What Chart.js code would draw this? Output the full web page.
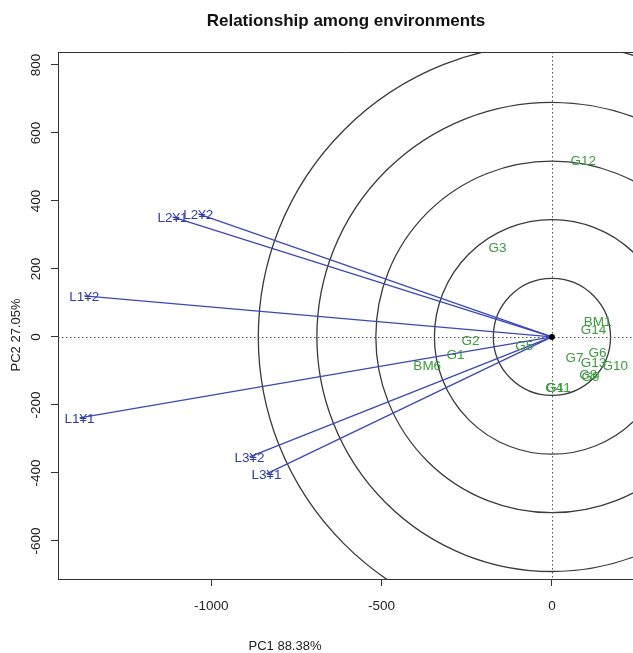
<!DOCTYPE html>
<html>
<head>
<meta charset="utf-8">
<script src="https://cdn.jsdelivr.net/npm/chart.js@4/dist/chart.umd.min.js"></script>
<style>
html,body{margin:0;padding:0;background:#fff;}
#wrap{width:633px;height:653px;}
</style>
</head>
<body>
<div id="wrap"><canvas id="c" width="633" height="653"></canvas></div>
<script>
// ---- data ----
const envLabels = ['L1¥1', 'L1¥2', 'L2¥1', 'L2¥2', 'L3¥1', 'L3¥2'];
const envPC1 = [-1387, -1373, -1114, -1038, -838, -888];
const envPC2 = [-238, 121, 353, 362, -403, -353];

const genLabels = ['G12', 'G3', 'G2', 'G1', 'BM6', 'G5', 'BM1', 'G14', 'G6', 'G7', 'G13', 'G10', 'G8', 'G9', 'G4', 'G11'];
const genPC1 = [92, -160, -239, -283, -366, -81, 134, 122, 134, 66, 122, 186, 107, 113, 7, 19];
const genPC2 = [521, 265, -9, -50, -82, -24, 47, 24, -44, -59, -74, -82, -109, -115, -147, -147];

const circleRadii = [172, 345, 517, 690, 862];
const xTicks = [-1000, -500, 0];
const yTicks = [-600, -400, -200, 0, 200, 400, 600, 800];

const titleText = 'Relationship among environments';
const xTitle = 'PC1 88.38%';
const yTitle = 'PC2 27.05%';

// ---- styles ----
const FONT = '"Liberation Sans", Arial, sans-serif';
const BLUE_LINE = '#3a48b8';
const BLUE_TEXT = '#2e3ca8';
const GREEN_TEXT = '#3d9a3d';
const AXIS = '#333333';

const datasets = [];
envLabels.forEach((lab, i) => {
  datasets.push({
    type: 'scatter',
    data: [{x: 0, y: 0}, {x: envPC1[i], y: envPC2[i]}],
    showLine: true,
    borderColor: BLUE_LINE,
    borderWidth: 1.3,
    pointRadius: 0,
    fill: false
  });
});
datasets.push({
  type: 'scatter',
  data: envPC1.map((v, i) => ({x: v, y: envPC2[i]})),
  pointRadius: 0,
  textLabels: envLabels,
  textColor: BLUE_TEXT
});
datasets.push({
  type: 'scatter',
  data: genPC1.map((v, i) => ({x: v, y: genPC2[i]})),
  pointRadius: 0,
  textLabels: genLabels,
  textColor: GREEN_TEXT
});

const decor = {
  id: 'decor',
  beforeDatasetsDraw(chart) {
    const {ctx, chartArea: a, scales: {x, y}} = chart;
    const cx = x.getPixelForValue(0), cy = y.getPixelForValue(0);
    ctx.save();
    ctx.beginPath();
    ctx.rect(a.left, a.top, a.right - a.left, a.bottom - a.top);
    ctx.clip();
    // circles
    ctx.strokeStyle = '#3a3a3a';
    ctx.lineWidth = 1.3;
    circleRadii.forEach(r => {
      const rx = x.getPixelForValue(r) - cx;
      const ry = cy - y.getPixelForValue(r);
      ctx.beginPath();
      ctx.ellipse(cx, cy, rx, ry, 0, 0, Math.PI * 2);
      ctx.stroke();
    });
    // dotted zero lines
    ctx.strokeStyle = '#555';
    ctx.lineWidth = 1;
    ctx.setLineDash([1.5, 2.5]);
    ctx.beginPath();
    ctx.moveTo(Math.round(cx) + 0.5, a.top);
    ctx.lineTo(Math.round(cx) + 0.5, a.bottom);
    ctx.moveTo(a.left, Math.round(cy) + 0.5);
    ctx.lineTo(a.right, Math.round(cy) + 0.5);
    ctx.stroke();
    ctx.restore();
    // top border
    ctx.save();
    ctx.strokeStyle = AXIS;
    ctx.lineWidth = 1;
    ctx.beginPath();
    ctx.moveTo(a.left, Math.round(a.top) + 0.5);
    ctx.lineTo(a.right, Math.round(a.top) + 0.5);
    ctx.stroke();
    ctx.restore();
  },
  afterDatasetsDraw(chart) {
    const {ctx} = chart;
    ctx.save();
    ctx.font = '13.5px ' + FONT;
    ctx.textAlign = 'center';
    ctx.textBaseline = 'alphabetic';
    chart.data.datasets.forEach((ds, di) => {
      if (!ds.textLabels) return;
      const meta = chart.getDatasetMeta(di);
      ctx.fillStyle = ds.textColor;
      meta.data.forEach((el, i) => {
        ctx.fillText(ds.textLabels[i], el.x, el.y + 4.8);
      });
    });
    // origin dot on top
    const x = chart.scales.x, y = chart.scales.y;
    ctx.fillStyle = '#000';
    ctx.beginPath();
    ctx.arc(x.getPixelForValue(0), y.getPixelForValue(0), 3, 0, Math.PI * 2);
    ctx.fill();
    ctx.restore();
  },
  afterDraw(chart) {
    const {ctx, scales: {y}} = chart;
    ctx.save();
    ctx.fillStyle = '#111';
    ctx.textAlign = 'center';
    ctx.textBaseline = 'alphabetic';
    ctx.font = 'bold 17px ' + FONT;
    ctx.fillText(titleText, 346, 26);
    ctx.fillStyle = '#222';
    ctx.font = '13px ' + FONT;
    ctx.fillText(xTitle, 285, 650);
    // y title
    ctx.save();
    ctx.translate(19.5, 335);
    ctx.rotate(-Math.PI / 2);
    ctx.fillText(yTitle, 0, 0);
    ctx.restore();
    // y tick labels (rotated like R)
    ctx.font = '13.5px ' + FONT;
    yTicks.forEach(v => {
      const py = y.getPixelForValue(v);
      ctx.save();
      ctx.translate(39.5, py);
      ctx.rotate(-Math.PI / 2);
      ctx.fillText(String(v), 0, 0);
      ctx.restore();
    });
    ctx.restore();
  }
};

new Chart(document.getElementById('c'), {
  type: 'scatter',
  data: {datasets},
  options: {
    responsive: false,
    animation: false,
    devicePixelRatio: 1,
    layout: {padding: {top: 52, left: 0, right: -4, bottom: 0}},
    plugins: {legend: {display: false}, tooltip: {enabled: false}, title: {display: false}},
    scales: {
      x: {
        type: 'linear',
        min: -1450, max: 238,
        afterBuildTicks: s => { s.ticks = xTicks.map(v => ({value: v})); },
        afterFit: s => { s.height = 74; },
        grid: {drawOnChartArea: false, drawTicks: true, tickLength: 7, color: AXIS, tickColor: AXIS, tickWidth: 1},
        border: {display: true, color: AXIS, width: 1},
        ticks: {font: {family: FONT, size: 13.5}, color: '#222', padding: 12, maxRotation: 0, minRotation: 0, autoSkip: false,
                callback: v => String(v)}
      },
      y: {
        type: 'linear',
        min: -712, max: 838,
        afterBuildTicks: s => { s.ticks = yTicks.map(v => ({value: v})); },
        afterFit: s => { s.width = 58; },
        grid: {drawOnChartArea: false, drawTicks: true, tickLength: 7, color: AXIS, tickColor: AXIS, tickWidth: 1},
        border: {display: true, color: AXIS, width: 1},
        ticks: {display: false}
      }
    }
  },
  plugins: [decor]
});
</script>
</body>
</html>
